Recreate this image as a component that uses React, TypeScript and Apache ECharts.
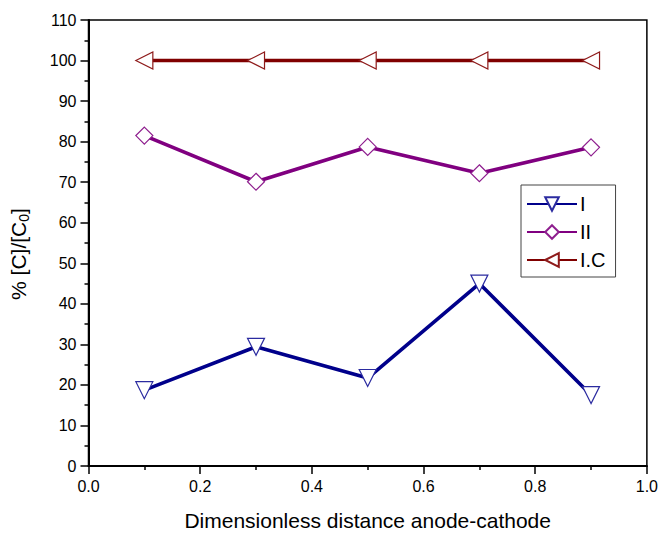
import React, { useEffect, useRef } from "react";
import * as echarts from "echarts";

const xValues = [0.1, 0.3, 0.5, 0.7, 0.9];
const seriesI = [18.7, 29.4, 21.7, 45.0, 17.5];
const seriesII = [81.5, 70.1, 78.7, 72.2, 78.6];
const seriesIC = [100, 100, 100, 100, 100];

const seriesNames = ["I", "II", "I.C"];
const lineColors = ["#00008B", "#800080", "#800000"];
const markerColors = ["#2b2ba0", "#8e1e8e", "#8e1a1a"];

export default function App() {
  const ref = useRef<HTMLDivElement>(null);
  useEffect(() => {
    if (!ref.current) return;
    const chart = echarts.init(ref.current, null, { renderer: "svg" });
    const mk = (name: string, vals: number[], i: number, symbol: string, rot: number) => ({
      name,
      type: "line",
      data: xValues.map((x, k) => [x, vals[k]]),
      symbol,
      symbolSize: 17,
      symbolRotate: rot,
      showAllSymbol: true,
      lineStyle: { color: lineColors[i], width: 3.6 },
      itemStyle: { color: "#ffffff", borderColor: markerColors[i], borderWidth: 1.2 },
      z: 2,
    });
    chart.setOption({
      animation: false,
      backgroundColor: "#ffffff",
      textStyle: { fontFamily: "Liberation Sans, Arial, sans-serif" },
      grid: {
        left: 88,
        right: 13,
        top: 20,
        bottom: 67,
        show: true,
        borderColor: "#000",
        borderWidth: 1.5,
      },
      legend: {
        orient: "vertical",
        left: 521,
        top: 185,
        itemWidth: 50,
        itemHeight: 17,
        itemGap: 8,
        borderColor: "#444",
        borderWidth: 1,
        padding: [9, 10, 7, 5],
        textStyle: { fontSize: 20, color: "#000", fontFamily: "Liberation Sans, Arial, sans-serif", padding: [0, 0, 0, -2] },
        data: seriesNames,
      },
      xAxis: {
        type: "value",
        min: 0,
        max: 1,
        interval: 0.2,
        name: "Dimensionless distance anode-cathode",
        nameLocation: "middle",
        nameGap: 44,
        nameTextStyle: { fontSize: 21, color: "#000" },
        axisLine: { lineStyle: { color: "#000", width: 2 } },
        axisTick: { inside: false, length: 8, lineStyle: { color: "#000", width: 1.5 } },
        minorTick: { show: true, splitNumber: 2, length: 4, lineStyle: { color: "#000", width: 1.5 } },
        axisLabel: { fontSize: 16, color: "#000", margin: 12, formatter: (v: number) => v.toFixed(1) },
        splitLine: { show: false },
      },
      yAxis: {
        type: "value",
        min: 0,
        max: 110,
        interval: 10,
        name: "% [C]/[C{sub|0}]",
        nameLocation: "middle",
        nameGap: 58,
        nameRotate: 90,
        nameTextStyle: {
          fontSize: 21,
          color: "#000",
          padding: [0, 22, 0, 0],
          rich: { sub: { fontSize: 14, verticalAlign: "bottom", padding: [10, 0, 0, 0] } },
        },
        axisLine: { lineStyle: { color: "#000", width: 2 } },
        axisTick: { inside: false, length: 8, lineStyle: { color: "#000", width: 1.5 } },
        minorTick: { show: true, splitNumber: 2, length: 4, lineStyle: { color: "#000", width: 1.5 } },
        axisLabel: { fontSize: 16, color: "#000", margin: 12 },
        splitLine: { show: false },
      },
      series: [
        mk("I", seriesI, 0, "triangle", 180),
        mk("II", seriesII, 1, "diamond", 0),
        mk("I.C", seriesIC, 2, "triangle", 90),
      ],
    });
    return () => chart.dispose();
  }, []);
  return <div ref={ref} style={{ width: 661, height: 536, position: "absolute", left: 0, top: 0 }} />;
}
